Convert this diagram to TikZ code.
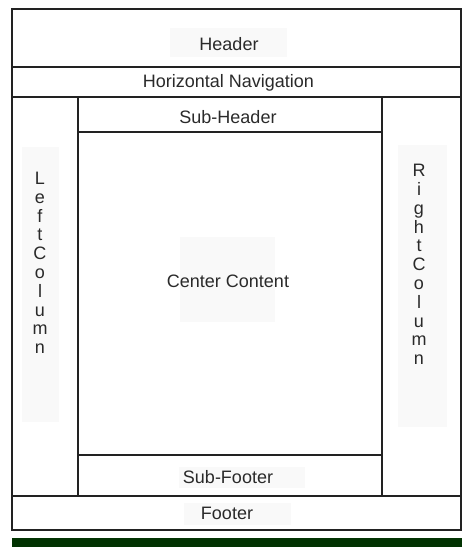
\documentclass[tikz,border=0pt]{standalone}
\usepackage{fontspec}
\setmainfont{Liberation Sans}
\definecolor{txtc}{HTML}{2A2A2A}
\definecolor{linec}{HTML}{222222}
\definecolor{bgc}{HTML}{F9F9F9}
\definecolor{barc}{HTML}{023302}
\begin{document}
\begin{tikzpicture}[x=0.75pt,y=-0.75pt,
  region/.style={draw=linec,line width=1.2pt},
  lbl/.style={text=txtc,inner sep=0pt,font=\fontsize{13.5}{14.1}\selectfont},
  vlbl/.style={lbl,align=center},
  shade/.style={fill=bgc,draw=none}]
\useasboundingbox (0,0) rectangle (462,547);
% label backgrounds
\fill[shade] (170,28) rectangle (287,57);
\fill[shade] (179,467) rectangle (305,488);
\fill[shade] (184,503) rectangle (291,525);
\fill[shade] (180,237) rectangle (275,322);
\fill[shade] (22,147) rectangle (59,422);
\fill[shade] (398,145) rectangle (447,427);
% regions
\draw[region] (12,9) rectangle (461,530);
\draw[region] (12,67) -- (461,67);
\draw[region] (12,97) -- (461,97);
\draw[region] (78,97) -- (78,496);
\draw[region] (382,97) -- (382,496);
\draw[region] (78,132) -- (382,132);
\draw[region] (78,455) -- (382,455);
\draw[region] (12,496) -- (461,496);
% labels
\node[lbl] (header) at (229,44) {Header};
\node[lbl] (nav) at (228.5,83) {Horizontal Navigation};
\node[lbl] (subheader) at (228,117) {Sub-Header};
\node[lbl] (center) at (228,281) {Center Content};
\node[lbl] (subfooter) at (228,477) {Sub-Footer};
\node[lbl] (footer) at (227,513) {Footer};
\node[vlbl] (left) at (40,263) {L\\e\\f\\t\\C\\o\\l\\u\\m\\n};
\node[vlbl] (right) at (419,264.5) {R\\i\\g\\h\\t\\C\\o\\l\\u\\m\\n};
% bottom bar
\fill[barc] (12,538) rectangle (462,547);
\end{tikzpicture}
\end{document}
